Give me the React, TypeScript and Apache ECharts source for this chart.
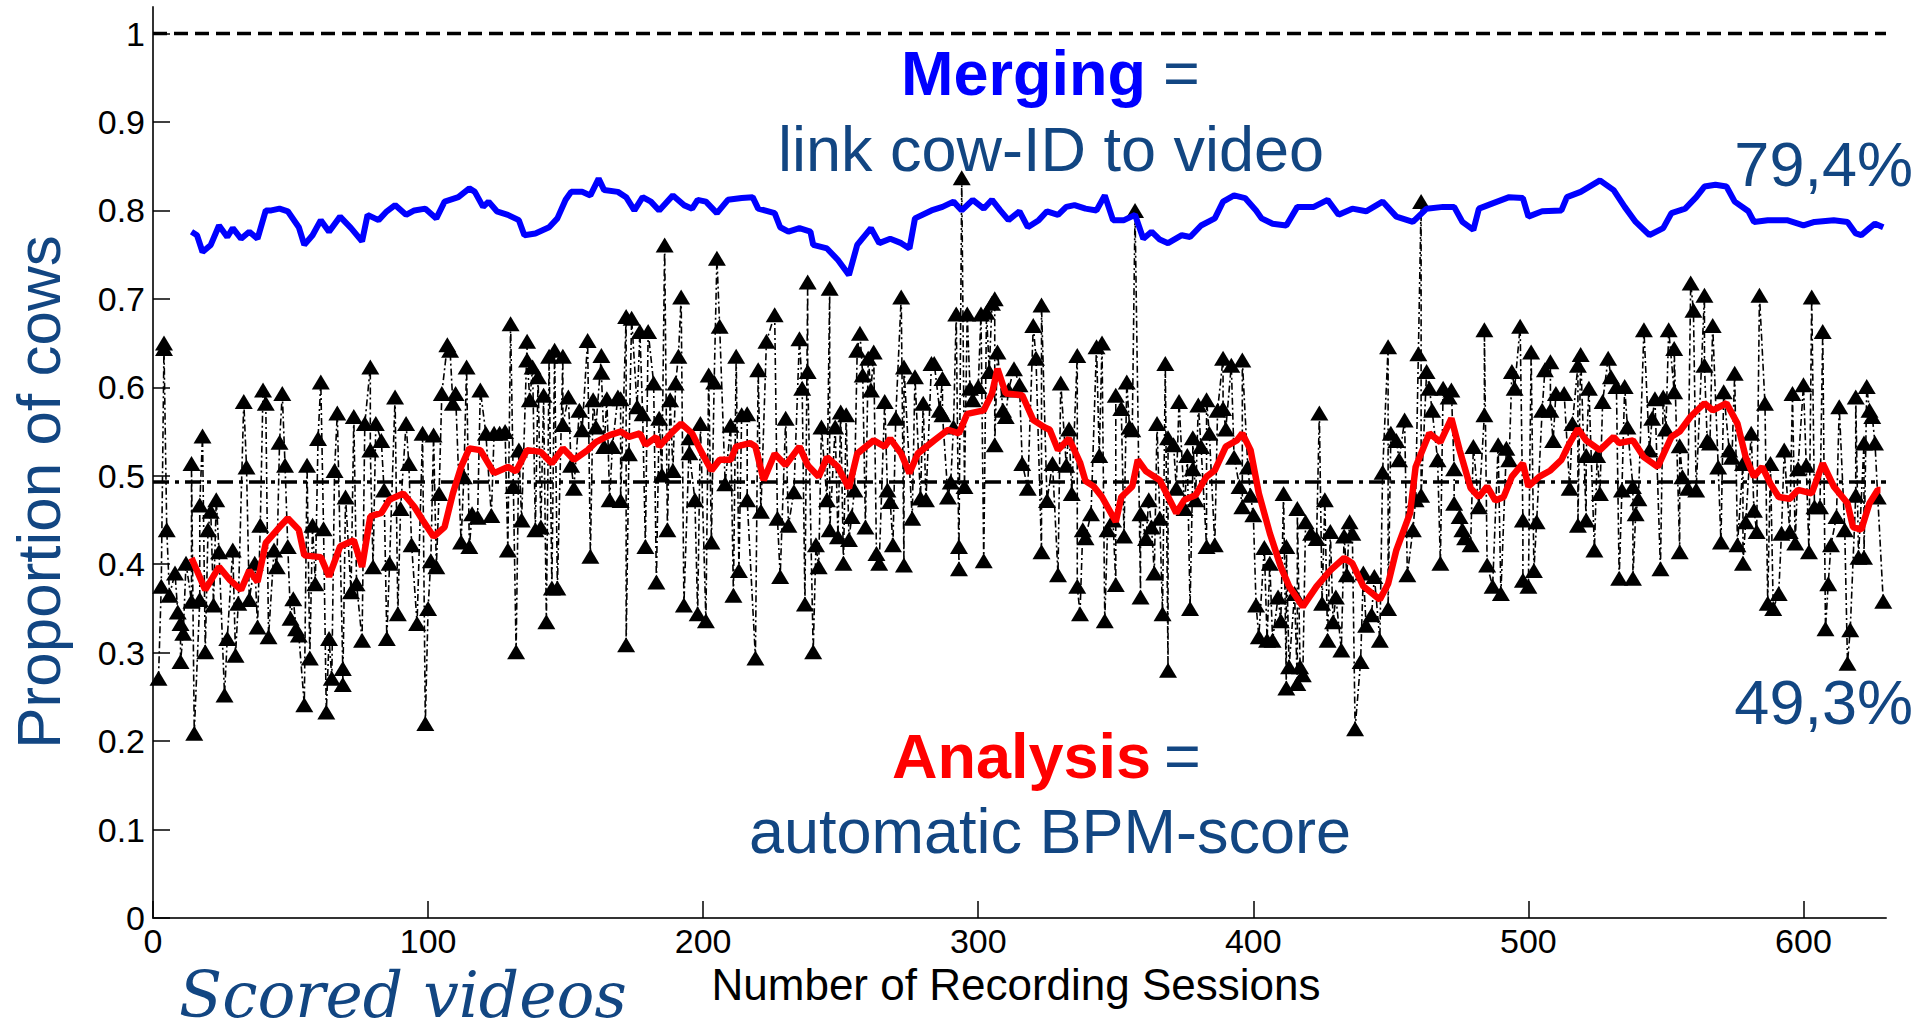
import React, { useEffect, useRef } from "react";
import * as echarts from "echarts";

// Axis tick positions
const sessionTicks = [0, 100, 200, 300, 400, 500, 600];
const proportionTicks = [0, 0.1, 0.2, 0.3, 0.4, 0.5, 0.6, 0.7, 0.8, 0.9, 1];

// Overall means
const mergingMean = 0.794;
const analysisMean = 0.493;
const completeLevel = 1;

// Proportion of cows with an automatic BPM-score, per recording session [session, proportion]
const analysisPerSession: [number, number][] = [
  [2, 0.271], [3, 0.375], [4, 0.65], [4, 0.644], [5, 0.439], [6, 0.365], [8, 0.39], [9, 0.346], [10, 0.333], [10, 0.29],
  [11, 0.322], [12, 0.401], [14, 0.358], [14, 0.514], [15, 0.209], [17, 0.36], [17, 0.467], [18, 0.545], [19, 0.301], [20, 0.439],
  [21, 0.46], [22, 0.354], [23, 0.473], [24, 0.414], [26, 0.252], [27, 0.316], [29, 0.416], [30, 0.297], [31, 0.356], [33, 0.584],
  [34, 0.51], [35, 0.36], [37, 0.401], [38, 0.329], [39, 0.444], [40, 0.597], [41, 0.582], [42, 0.318], [44, 0.416], [45, 0.397],
  [46, 0.538], [47, 0.593], [48, 0.512], [49, 0.42], [50, 0.339], [51, 0.361], [52, 0.327], [53, 0.32], [55, 0.241], [56, 0.512],
  [57, 0.294], [58, 0.444], [59, 0.378], [60, 0.542], [61, 0.606], [62, 0.44], [63, 0.233], [64, 0.316], [65, 0.271], [66, 0.506],
  [67, 0.571], [69, 0.282], [69, 0.264], [70, 0.476], [72, 0.369], [73, 0.567], [74, 0.378], [76, 0.314], [77, 0.559], [79, 0.623],
  [79, 0.529], [80, 0.397], [81, 0.559], [83, 0.54], [84, 0.484], [85, 0.316], [86, 0.401], [88, 0.589], [89, 0.344], [90, 0.463],
  [92, 0.559], [93, 0.514], [94, 0.422], [96, 0.333], [98, 0.548], [99, 0.22], [100, 0.35], [101, 0.404], [102, 0.546], [103, 0.397],
  [104, 0.48], [105, 0.593], [107, 0.648], [108, 0.642], [109, 0.582], [110, 0.593], [112, 0.425], [113, 0.499], [114, 0.623], [115, 0.42],
  [116, 0.457], [118, 0.453], [119, 0.597], [121, 0.548], [123, 0.455], [124, 0.548], [126, 0.548], [128, 0.55], [129, 0.416], [130, 0.672],
  [131, 0.488], [132, 0.301], [133, 0.529], [134, 0.45], [136, 0.652], [136, 0.631], [137, 0.586], [138, 0.623], [139, 0.439], [140, 0.612],
  [141, 0.442], [142, 0.591], [143, 0.335], [144, 0.635], [145, 0.373], [146, 0.642], [147, 0.373], [149, 0.635], [149, 0.558], [151, 0.589],
  [152, 0.512], [153, 0.486], [155, 0.574], [156, 0.552], [158, 0.653], [159, 0.409], [160, 0.586], [161, 0.555], [163, 0.636], [163, 0.617],
  [164, 0.533], [165, 0.587], [166, 0.473], [167, 0.533], [169, 0.589], [170, 0.587], [170, 0.472], [172, 0.68], [172, 0.309], [173, 0.525],
  [174, 0.678], [176, 0.578], [177, 0.663], [178, 0.57], [179, 0.42], [180, 0.663], [182, 0.605], [183, 0.38], [184, 0.565], [185, 0.501],
  [186, 0.761], [187, 0.439], [188, 0.586], [189, 0.506], [190, 0.605], [191, 0.635], [192, 0.702], [193, 0.354], [195, 0.543], [195, 0.526],
  [197, 0.473], [198, 0.344], [199, 0.559], [201, 0.336], [202, 0.614], [203, 0.425], [204, 0.606], [205, 0.746], [206, 0.669], [208, 0.491],
  [210, 0.557], [211, 0.365], [212, 0.635], [213, 0.393], [214, 0.569], [216, 0.57], [216, 0.473], [219, 0.294], [220, 0.62], [221, 0.46],
  [223, 0.652], [226, 0.682], [227, 0.452], [228, 0.386], [230, 0.565], [231, 0.444], [233, 0.482], [235, 0.655], [236, 0.599], [237, 0.355],
  [238, 0.719], [238, 0.618], [240, 0.301], [241, 0.422], [242, 0.397], [243, 0.555], [245, 0.473], [246, 0.712], [246, 0.439], [248, 0.555],
  [249, 0.431], [250, 0.572], [251, 0.401], [252, 0.569], [253, 0.428], [254, 0.454], [255, 0.484], [256, 0.642], [257, 0.661], [258, 0.614],
  [259, 0.442], [260, 0.633], [261, 0.597], [262, 0.64], [263, 0.412], [264, 0.401], [266, 0.584], [267, 0.484], [268, 0.471], [269, 0.422],
  [270, 0.565], [272, 0.702], [273, 0.399], [273, 0.623], [276, 0.452], [277, 0.612], [279, 0.475], [280, 0.582], [281, 0.473], [283, 0.627],
  [284, 0.627], [286, 0.574], [287, 0.61], [287, 0.569], [289, 0.476], [290, 0.493], [291, 0.555], [292, 0.683], [293, 0.395], [293, 0.42],
  [294, 0.837], [295, 0.488], [296, 0.683], [297, 0.599], [298, 0.586], [300, 0.601], [301, 0.683], [302, 0.404], [303, 0.685], [304, 0.618],
  [305, 0.695], [306, 0.7], [306, 0.535], [307, 0.64], [309, 0.574], [310, 0.567], [311, 0.597], [313, 0.621], [315, 0.603], [316, 0.514],
  [318, 0.486], [320, 0.67], [321, 0.633], [323, 0.414], [323, 0.693], [325, 0.472], [327, 0.514], [329, 0.388], [330, 0.605], [332, 0.512],
  [333, 0.553], [334, 0.48], [336, 0.636], [336, 0.375], [337, 0.344], [338, 0.439], [339, 0.43], [341, 0.457], [343, 0.646], [344, 0.523],
  [345, 0.65], [346, 0.336], [347, 0.439], [349, 0.45], [350, 0.377], [350, 0.591], [352, 0.576], [353, 0.432], [354, 0.606], [355, 0.555],
  [356, 0.552], [357, 0.8], [359, 0.363], [359, 0.457], [361, 0.429], [362, 0.473], [363, 0.442], [364, 0.39], [365, 0.559], [366, 0.452],
  [367, 0.344], [368, 0.627], [369, 0.28], [369, 0.543], [371, 0.535], [372, 0.486], [373, 0.584], [375, 0.463], [376, 0.523], [377, 0.35],
  [378, 0.508], [378, 0.543], [379, 0.473], [380, 0.58], [381, 0.533], [383, 0.42], [383, 0.586], [384, 0.548], [386, 0.422], [387, 0.574],
  [389, 0.633], [389, 0.576], [390, 0.553], [392, 0.625], [393, 0.521], [395, 0.488], [396, 0.465], [396, 0.631], [398, 0.51], [399, 0.478],
  [400, 0.456], [401, 0.354], [402, 0.318], [404, 0.419], [405, 0.314], [406, 0.401], [407, 0.314], [409, 0.363], [410, 0.336], [411, 0.48],
  [412, 0.26], [412, 0.42], [413, 0.284], [415, 0.367], [416, 0.265], [416, 0.463], [417, 0.284], [418, 0.275], [419, 0.448], [421, 0.435],
  [423, 0.429], [424, 0.571], [425, 0.356], [426, 0.473], [427, 0.314], [428, 0.437], [429, 0.335], [430, 0.363], [432, 0.303], [433, 0.432],
  [434, 0.388], [435, 0.448], [436, 0.435], [437, 0.214], [439, 0.29], [440, 0.39], [441, 0.331], [443, 0.343], [444, 0.386], [446, 0.314],
  [447, 0.504], [449, 0.646], [449, 0.35], [450, 0.548], [452, 0.54], [453, 0.518], [455, 0.563], [456, 0.388], [458, 0.439], [459, 0.473],
  [460, 0.638], [461, 0.81], [461, 0.478], [463, 0.618], [464, 0.599], [465, 0.574], [467, 0.518], [468, 0.401], [469, 0.599], [471, 0.589],
  [472, 0.597], [473, 0.508], [473, 0.469], [475, 0.454], [476, 0.439], [477, 0.43], [479, 0.422], [480, 0.533], [482, 0.465], [484, 0.569],
  [484, 0.665], [485, 0.399], [487, 0.375], [489, 0.535], [490, 0.367], [492, 0.531], [493, 0.518], [494, 0.618], [495, 0.599], [497, 0.669],
  [498, 0.45], [498, 0.382], [500, 0.375], [501, 0.64], [502, 0.393], [503, 0.448], [505, 0.574], [506, 0.62], [508, 0.629], [508, 0.574],
  [509, 0.54], [510, 0.593], [513, 0.593], [515, 0.486], [516, 0.559], [518, 0.625], [518, 0.444], [519, 0.637], [521, 0.45], [521, 0.523],
  [522, 0.599], [524, 0.416], [525, 0.523], [526, 0.48], [527, 0.584], [529, 0.633], [530, 0.612], [532, 0.601], [533, 0.384], [534, 0.484],
  [535, 0.601], [536, 0.555], [538, 0.488], [538, 0.384], [539, 0.457], [540, 0.474], [542, 0.665], [544, 0.529], [545, 0.565], [546, 0.587],
  [548, 0.395], [549, 0.589], [550, 0.553], [551, 0.665], [553, 0.595], [553, 0.644], [555, 0.414], [555, 0.534], [556, 0.499], [558, 0.486],
  [559, 0.718], [560, 0.687], [561, 0.484], [564, 0.704], [564, 0.625], [565, 0.54], [566, 0.537], [567, 0.67], [569, 0.51], [570, 0.425],
  [571, 0.595], [573, 0.529], [574, 0.521], [575, 0.616], [576, 0.422], [578, 0.514], [578, 0.401], [579, 0.448], [581, 0.548], [582, 0.461],
  [583, 0.437], [584, 0.704], [586, 0.582], [587, 0.356], [588, 0.514], [589, 0.35], [591, 0.367], [592, 0.435], [593, 0.529], [595, 0.437],
  [596, 0.593], [597, 0.424], [598, 0.508], [600, 0.603], [601, 0.512], [602, 0.414], [603, 0.702], [604, 0.465], [606, 0.465], [607, 0.663],
  [608, 0.327], [609, 0.378], [610, 0.422], [612, 0.454], [613, 0.578], [615, 0.439], [616, 0.288], [617, 0.326], [619, 0.478], [619, 0.589],
  [620, 0.408], [622, 0.537], [622, 0.408], [623, 0.601], [624, 0.574], [625, 0.567], [626, 0.537], [627, 0.476], [629, 0.358],
];

// Rolling proportion of analysed cows [session, proportion]
const analysisRolling: [number, number][] = [
  [14, 0.407], [19, 0.371], [24, 0.397], [28, 0.382], [32, 0.371], [35, 0.393], [38, 0.38], [41, 0.424], [46, 0.442], [49, 0.452],
  [53, 0.439], [55, 0.41], [61, 0.408], [64, 0.386], [68, 0.42], [73, 0.427], [76, 0.397], [79, 0.454], [83, 0.458], [86, 0.473],
  [91, 0.48], [95, 0.465], [98, 0.45], [102, 0.431], [106, 0.442], [109, 0.48], [112, 0.51], [115, 0.531], [119, 0.529], [124, 0.503],
  [129, 0.51], [132, 0.505], [136, 0.529], [141, 0.527], [145, 0.514], [149, 0.531], [153, 0.518], [158, 0.529], [161, 0.538], [166, 0.546],
  [170, 0.55], [173, 0.544], [177, 0.548], [179, 0.535], [183, 0.544], [184, 0.533], [189, 0.55], [192, 0.559], [196, 0.548], [199, 0.529],
  [203, 0.506], [206, 0.518], [210, 0.518], [212, 0.533], [217, 0.537], [219, 0.533], [222, 0.495], [226, 0.525], [230, 0.512], [235, 0.533],
  [238, 0.512], [242, 0.499], [245, 0.521], [249, 0.51], [253, 0.486], [256, 0.525], [262, 0.54], [266, 0.533], [268, 0.542], [272, 0.525],
  [275, 0.503], [278, 0.525], [284, 0.54], [289, 0.552], [293, 0.548], [296, 0.57], [302, 0.574], [305, 0.593], [307, 0.621], [310, 0.593],
  [316, 0.591], [320, 0.563], [324, 0.555], [326, 0.552], [329, 0.529], [333, 0.542], [337, 0.515], [339, 0.494], [342, 0.488], [345, 0.476],
  [350, 0.448], [352, 0.476], [356, 0.488], [358, 0.518], [361, 0.505], [366, 0.495], [372, 0.458], [375, 0.473], [379, 0.478], [383, 0.499],
  [386, 0.506], [390, 0.533], [394, 0.54], [396, 0.548], [399, 0.529], [402, 0.48], [406, 0.435], [410, 0.397], [413, 0.375], [418, 0.352],
  [423, 0.375], [428, 0.393], [433, 0.407], [436, 0.401], [440, 0.375], [446, 0.36], [449, 0.378], [452, 0.416], [457, 0.458], [459, 0.51],
  [464, 0.548], [468, 0.538], [472, 0.565], [475, 0.529], [479, 0.486], [482, 0.476], [485, 0.488], [488, 0.472], [491, 0.476], [494, 0.499],
  [498, 0.514], [500, 0.488], [504, 0.499], [508, 0.506], [512, 0.518], [515, 0.537], [518, 0.553], [521, 0.54], [526, 0.529], [531, 0.544],
  [533, 0.537], [538, 0.54], [542, 0.521], [547, 0.51], [552, 0.544], [555, 0.55], [559, 0.567], [564, 0.582], [567, 0.574], [572, 0.582],
  [576, 0.559], [579, 0.521], [582, 0.499], [585, 0.51], [588, 0.491], [591, 0.476], [595, 0.474], [598, 0.484], [603, 0.48], [607, 0.514],
  [611, 0.488], [616, 0.469], [618, 0.442], [621, 0.439], [624, 0.469], [627, 0.484], [628, 0.484],
];

// Rolling proportion of cows linked to a video [session, proportion]
const mergingRolling: [number, number][] = [
  [14, 0.776], [16, 0.772], [18, 0.753], [21, 0.761], [24, 0.783], [27, 0.77], [29, 0.78], [32, 0.768], [35, 0.776], [38, 0.768],
  [41, 0.8], [43, 0.8], [46, 0.802], [49, 0.799], [53, 0.781], [55, 0.761], [58, 0.772], [61, 0.789], [64, 0.776], [68, 0.793],
  [72, 0.78], [76, 0.765], [78, 0.795], [82, 0.789], [85, 0.799], [88, 0.806], [92, 0.795], [95, 0.8], [99, 0.802], [103, 0.791],
  [106, 0.81], [111, 0.815], [115, 0.825], [117, 0.821], [120, 0.804], [122, 0.81], [125, 0.799], [129, 0.795], [133, 0.789], [135, 0.772],
  [139, 0.774], [144, 0.781], [147, 0.791], [150, 0.812], [152, 0.821], [156, 0.821], [159, 0.817], [162, 0.836], [164, 0.823], [169, 0.821],
  [172, 0.815], [175, 0.8], [178, 0.815], [181, 0.81], [184, 0.8], [189, 0.817], [193, 0.806], [196, 0.802], [198, 0.812], [201, 0.81],
  [205, 0.797], [209, 0.812], [214, 0.814], [218, 0.815], [220, 0.802], [226, 0.797], [228, 0.781], [231, 0.776], [235, 0.78], [239, 0.776],
  [240, 0.761], [245, 0.757], [249, 0.744], [253, 0.727], [256, 0.761], [261, 0.78], [264, 0.763], [268, 0.768], [272, 0.763], [275, 0.757],
  [277, 0.791], [283, 0.8], [287, 0.804], [291, 0.81], [294, 0.8], [298, 0.812], [302, 0.802], [305, 0.812], [308, 0.8], [311, 0.789],
  [315, 0.799], [318, 0.781], [322, 0.789], [325, 0.799], [329, 0.795], [332, 0.804], [335, 0.806], [339, 0.802], [343, 0.8], [346, 0.817],
  [349, 0.789], [353, 0.789], [357, 0.795], [360, 0.768], [363, 0.776], [366, 0.767], [369, 0.763], [374, 0.772], [377, 0.77], [381, 0.783],
  [386, 0.791], [389, 0.81], [393, 0.817], [397, 0.814], [401, 0.8], [403, 0.791], [407, 0.785], [412, 0.783], [416, 0.804], [422, 0.804],
  [427, 0.812], [431, 0.795], [436, 0.802], [441, 0.799], [447, 0.81], [452, 0.793], [458, 0.787], [463, 0.802], [469, 0.804], [473, 0.804],
  [476, 0.787], [480, 0.778], [482, 0.802], [487, 0.808], [493, 0.815], [498, 0.814], [500, 0.793], [505, 0.799], [512, 0.8], [514, 0.815],
  [519, 0.821], [526, 0.834], [531, 0.823], [535, 0.804], [539, 0.787], [544, 0.772], [549, 0.78], [552, 0.797], [557, 0.802], [561, 0.815],
  [564, 0.827], [568, 0.829], [572, 0.827], [575, 0.81], [580, 0.799], [582, 0.787], [587, 0.789], [594, 0.789], [600, 0.783], [604, 0.787],
  [611, 0.789], [616, 0.787], [619, 0.774], [621, 0.772], [624, 0.78], [626, 0.785], [629, 0.781],
];

const SANS = '"Liberation Sans", Arial, Helvetica, sans-serif';
const DARK_BLUE = "#124682";

const pct = (v: number) => (v * 100).toFixed(1).replace(".", ",") + "%";

export default function App() {
  const ref = useRef<HTMLDivElement>(null);

  useEffect(() => {
    if (!ref.current) return;
    const chart = echarts.init(ref.current, undefined, { renderer: "svg" });

    const text = (
      x: number,
      y: number,
      str: string,
      font: string,
      fill: string,
      align: string,
      extra: Record<string, unknown> = {}
    ) => ({
      type: "text",
      x,
      y,
      silent: true,
      z: 100,
      ...extra,
      style: { text: str, font, fill, textAlign: align, textVerticalAlign: "middle" },
    });

    chart.setOption({
      animation: false,
      backgroundColor: "#ffffff",
      grid: { left: 153, right: 31, top: 7, bottom: 113, containLabel: false },
      xAxis: {
        type: "value",
        min: 0,
        max: 630,
        axisLine: { show: true, onZero: false, lineStyle: { color: "#333", width: 2 } },
        axisTick: {
          show: true,
          inside: true,
          length: 17,
          customValues: sessionTicks,
          lineStyle: { color: "#000", width: 1.5 },
        },
        axisLabel: {
          customValues: sessionTicks,
          margin: 6,
          fontSize: 34,
          color: "#000",
          fontFamily: SANS,
        },
        splitLine: { show: false },
      },
      yAxis: {
        type: "value",
        min: 0,
        max: 1.03,
        axisLine: { show: true, onZero: false, lineStyle: { color: "#333", width: 2 } },
        axisTick: {
          show: true,
          inside: true,
          length: 17,
          customValues: proportionTicks,
          lineStyle: { color: "#000", width: 1.5 },
        },
        axisLabel: {
          customValues: proportionTicks,
          margin: 8,
          fontSize: 34,
          color: "#000",
          fontFamily: SANS,
          formatter: (v: number) => String(Math.round(v * 10) / 10),
        },
        splitLine: { show: false },
      },
      series: [
        {
          type: "line",
          data: [[0, completeLevel], [630, completeLevel]],
          symbol: "none",
          silent: true,
          z: 1,
          lineStyle: { color: "#000", width: 3.5, type: [14, 7] },
        },
        {
          type: "line",
          data: [[0, analysisMean], [630, analysisMean]],
          symbol: "none",
          silent: true,
          z: 1,
          lineStyle: { color: "#000", width: 3.5, type: [16, 6, 4, 6] },
        },
        {
          type: "line",
          data: analysisPerSession,
          symbol: "triangle",
          symbolSize: [18, 15],
          showSymbol: true,
          silent: true,
          z: 2,
          itemStyle: { color: "#000" },
          lineStyle: { color: "#000", width: 1.6, type: [7, 3, 2, 3] },
        },
        {
          type: "line",
          data: analysisRolling,
          symbol: "none",
          silent: true,
          z: 3,
          lineStyle: { color: "#ff0000", width: 6.5 },
        },
        {
          type: "line",
          data: mergingRolling,
          symbol: "none",
          silent: true,
          z: 3,
          lineStyle: { color: "#0000ff", width: 6 },
        },
      ],
      graphic: [
        text(901, 73, "Merging", `bold 63px ${SANS}`, "#0000ff", "left"),
        text(1163, 73, "=", `63px ${SANS}`, DARK_BLUE, "left"),
        text(1051, 149, "link cow-ID to video", `63px ${SANS}`, DARK_BLUE, "center"),
        text(1913, 164, pct(mergingMean), `63px ${SANS}`, DARK_BLUE, "right"),
        text(1913, 702, pct(analysisMean), `63px ${SANS}`, DARK_BLUE, "right"),
        text(892, 756, "Analysis", `bold 63px ${SANS}`, "#ff0000", "left"),
        text(1164, 756, "=", `63px ${SANS}`, DARK_BLUE, "left"),
        text(1050, 831, "automatic BPM-score", `63px ${SANS}`, DARK_BLUE, "center"),
        text(38, 492, "Proportion of cows", `62px ${SANS}`, DARK_BLUE, "center", {
          rotation: Math.PI / 2,
        }),
        text(1016, 984, "Number of Recording Sessions", `44px ${SANS}`, "#000", "center"),
        text(179, 995, "Scored videos", `italic 63px "DejaVu Serif", serif`, DARK_BLUE, "left"),
      ],
    });

    return () => chart.dispose();
  }, []);

  return (
    <div
      ref={ref}
      style={{ position: "absolute", left: 0, top: 0, width: 1917, height: 1031, background: "#fff" }}
    />
  );
}
